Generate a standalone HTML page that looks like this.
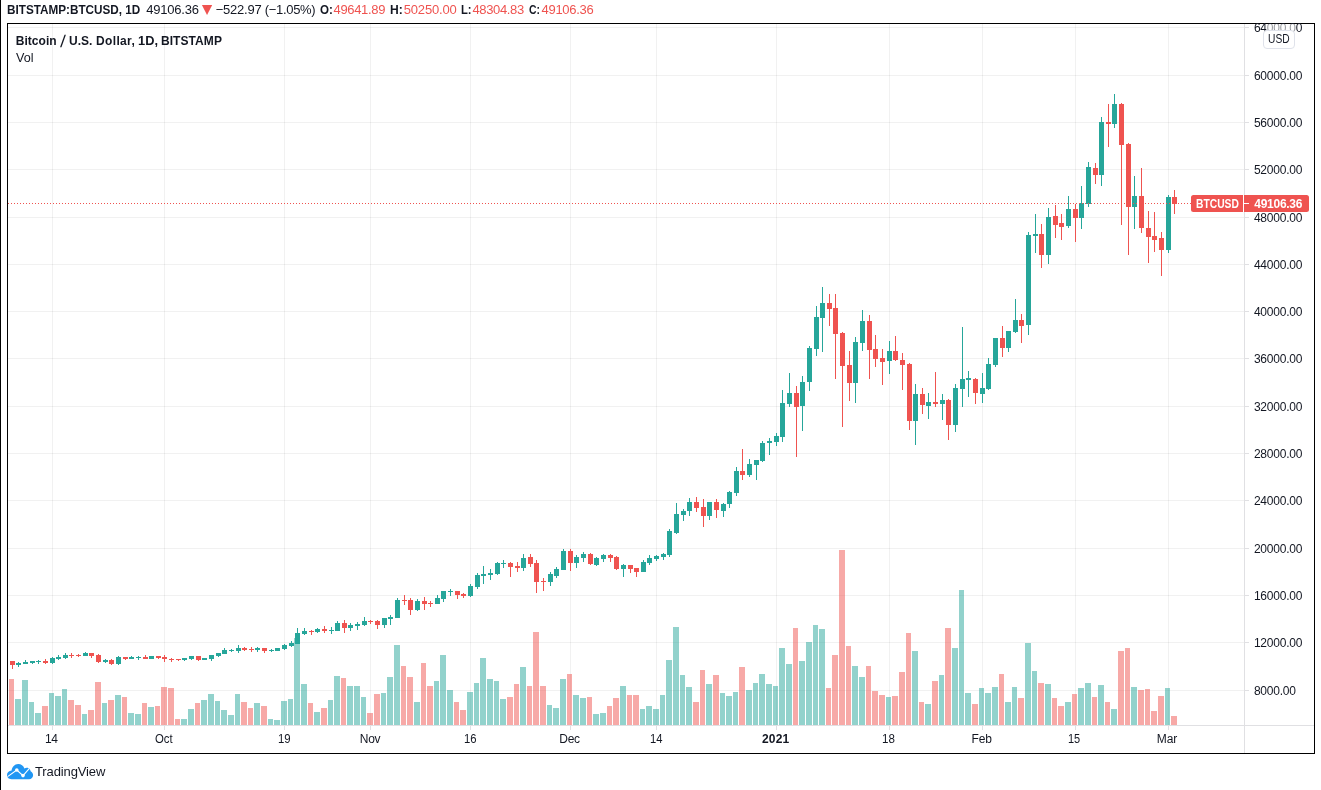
<!DOCTYPE html>
<html lang="en"><head><meta charset="utf-8"><title>BTCUSD chart</title>
<style>
html,body{margin:0;padding:0;background:#fff}
body{width:1321px;height:790px;position:relative;overflow:hidden;font-family:"Liberation Sans",sans-serif;color:#131722}
#c{position:absolute;left:0;top:0;display:block}
.t{position:absolute;transform-origin:0 0;white-space:nowrap;line-height:16px;height:16px;font-size:12px;margin:0;padding:0}
.b{font-weight:700}
.r{color:#ef5350}
.w{color:#fff}
.h{font-size:13px}
</style></head><body>
<svg id="c" width="1321" height="790" viewBox="0 0 1321 790" shape-rendering="crispEdges">
<rect x="0" y="0" width="1" height="790" fill="#000"/>
<g fill="#0c1612" fill-opacity="0.058">
<rect x="8" y="27" width="1236" height="1"/>
<rect x="8" y="75" width="1236" height="1"/>
<rect x="8" y="122" width="1236" height="1"/>
<rect x="8" y="169" width="1236" height="1"/>
<rect x="8" y="217" width="1236" height="1"/>
<rect x="8" y="264" width="1236" height="1"/>
<rect x="8" y="311" width="1236" height="1"/>
<rect x="8" y="358" width="1236" height="1"/>
<rect x="8" y="406" width="1236" height="1"/>
<rect x="8" y="453" width="1236" height="1"/>
<rect x="8" y="500" width="1236" height="1"/>
<rect x="8" y="548" width="1236" height="1"/>
<rect x="8" y="595" width="1236" height="1"/>
<rect x="8" y="642" width="1236" height="1"/>
<rect x="8" y="690" width="1236" height="1"/>
<rect x="52" y="24" width="1" height="701"/>
<rect x="164" y="24" width="1" height="701"/>
<rect x="284" y="24" width="1" height="701"/>
<rect x="370" y="24" width="1" height="701"/>
<rect x="470" y="24" width="1" height="701"/>
<rect x="570" y="24" width="1" height="701"/>
<rect x="656" y="24" width="1" height="701"/>
<rect x="776" y="24" width="1" height="701"/>
<rect x="889" y="24" width="1" height="701"/>
<rect x="982" y="24" width="1" height="701"/>
<rect x="1075" y="24" width="1" height="701"/>
<rect x="1168" y="24" width="1" height="701"/>
</g>
<g fill="#26a69a" fill-opacity="0.5">
<rect x="15" y="699" width="6" height="26"/>
<rect x="22" y="680" width="6" height="45"/>
<rect x="29" y="702" width="5" height="23"/>
<rect x="35" y="713" width="6" height="12"/>
<rect x="49" y="693" width="5" height="32"/>
<rect x="55" y="696" width="6" height="29"/>
<rect x="62" y="689" width="5" height="36"/>
<rect x="82" y="714" width="5" height="11"/>
<rect x="102" y="703" width="5" height="22"/>
<rect x="115" y="695" width="6" height="30"/>
<rect x="128" y="713" width="6" height="12"/>
<rect x="135" y="714" width="6" height="11"/>
<rect x="148" y="707" width="6" height="18"/>
<rect x="181" y="719" width="6" height="6"/>
<rect x="188" y="709" width="6" height="16"/>
<rect x="201" y="700" width="6" height="25"/>
<rect x="208" y="694" width="6" height="31"/>
<rect x="215" y="701" width="5" height="24"/>
<rect x="221" y="710" width="6" height="15"/>
<rect x="228" y="715" width="6" height="10"/>
<rect x="235" y="694" width="5" height="31"/>
<rect x="254" y="703" width="6" height="22"/>
<rect x="268" y="719" width="5" height="6"/>
<rect x="274" y="720" width="6" height="5"/>
<rect x="281" y="701" width="6" height="24"/>
<rect x="288" y="699" width="5" height="26"/>
<rect x="294" y="638" width="6" height="87"/>
<rect x="301" y="684" width="6" height="41"/>
<rect x="314" y="712" width="6" height="13"/>
<rect x="328" y="700" width="5" height="25"/>
<rect x="334" y="676" width="6" height="49"/>
<rect x="347" y="686" width="6" height="39"/>
<rect x="354" y="686" width="6" height="39"/>
<rect x="361" y="697" width="5" height="28"/>
<rect x="381" y="693" width="5" height="32"/>
<rect x="387" y="677" width="6" height="48"/>
<rect x="394" y="645" width="6" height="80"/>
<rect x="414" y="702" width="6" height="23"/>
<rect x="434" y="681" width="5" height="44"/>
<rect x="440" y="655" width="6" height="70"/>
<rect x="447" y="690" width="6" height="35"/>
<rect x="467" y="692" width="6" height="33"/>
<rect x="474" y="683" width="5" height="42"/>
<rect x="480" y="658" width="6" height="67"/>
<rect x="487" y="679" width="6" height="46"/>
<rect x="494" y="681" width="5" height="44"/>
<rect x="500" y="699" width="6" height="26"/>
<rect x="520" y="667" width="6" height="58"/>
<rect x="547" y="705" width="5" height="20"/>
<rect x="553" y="708" width="6" height="17"/>
<rect x="560" y="679" width="6" height="46"/>
<rect x="573" y="695" width="6" height="30"/>
<rect x="580" y="698" width="6" height="27"/>
<rect x="593" y="714" width="6" height="11"/>
<rect x="600" y="713" width="6" height="12"/>
<rect x="620" y="686" width="6" height="39"/>
<rect x="640" y="709" width="5" height="16"/>
<rect x="646" y="706" width="6" height="19"/>
<rect x="653" y="709" width="6" height="16"/>
<rect x="660" y="695" width="5" height="30"/>
<rect x="666" y="660" width="6" height="65"/>
<rect x="673" y="627" width="6" height="98"/>
<rect x="680" y="675" width="5" height="50"/>
<rect x="686" y="687" width="6" height="38"/>
<rect x="706" y="684" width="6" height="41"/>
<rect x="720" y="693" width="5" height="32"/>
<rect x="726" y="696" width="6" height="29"/>
<rect x="733" y="692" width="5" height="33"/>
<rect x="746" y="690" width="6" height="35"/>
<rect x="753" y="683" width="5" height="42"/>
<rect x="759" y="674" width="6" height="51"/>
<rect x="766" y="684" width="6" height="41"/>
<rect x="773" y="686" width="5" height="39"/>
<rect x="779" y="648" width="6" height="77"/>
<rect x="786" y="664" width="6" height="61"/>
<rect x="799" y="661" width="6" height="64"/>
<rect x="806" y="642" width="6" height="83"/>
<rect x="813" y="625" width="5" height="100"/>
<rect x="819" y="629" width="6" height="96"/>
<rect x="852" y="666" width="6" height="59"/>
<rect x="859" y="677" width="6" height="48"/>
<rect x="886" y="697" width="5" height="28"/>
<rect x="912" y="651" width="6" height="74"/>
<rect x="925" y="704" width="6" height="21"/>
<rect x="939" y="675" width="5" height="50"/>
<rect x="952" y="648" width="6" height="77"/>
<rect x="959" y="590" width="5" height="135"/>
<rect x="965" y="693" width="6" height="32"/>
<rect x="979" y="688" width="5" height="37"/>
<rect x="985" y="693" width="6" height="32"/>
<rect x="992" y="687" width="6" height="38"/>
<rect x="1005" y="702" width="6" height="23"/>
<rect x="1012" y="687" width="5" height="38"/>
<rect x="1025" y="643" width="6" height="82"/>
<rect x="1032" y="671" width="5" height="54"/>
<rect x="1045" y="684" width="6" height="41"/>
<rect x="1065" y="702" width="6" height="23"/>
<rect x="1078" y="688" width="6" height="37"/>
<rect x="1085" y="683" width="6" height="42"/>
<rect x="1098" y="685" width="6" height="40"/>
<rect x="1111" y="709" width="6" height="16"/>
<rect x="1131" y="687" width="6" height="38"/>
<rect x="1165" y="688" width="5" height="37"/>
</g>
<g fill="#ef5350" fill-opacity="0.5">
<rect x="9" y="679" width="5" height="46"/>
<rect x="42" y="706" width="6" height="19"/>
<rect x="68" y="700" width="6" height="25"/>
<rect x="75" y="705" width="6" height="20"/>
<rect x="88" y="710" width="6" height="15"/>
<rect x="95" y="682" width="6" height="43"/>
<rect x="108" y="700" width="6" height="25"/>
<rect x="122" y="697" width="5" height="28"/>
<rect x="142" y="703" width="5" height="22"/>
<rect x="155" y="706" width="5" height="19"/>
<rect x="161" y="687" width="6" height="38"/>
<rect x="168" y="688" width="6" height="37"/>
<rect x="175" y="719" width="5" height="6"/>
<rect x="195" y="703" width="5" height="22"/>
<rect x="241" y="702" width="6" height="23"/>
<rect x="248" y="708" width="5" height="17"/>
<rect x="261" y="706" width="6" height="19"/>
<rect x="308" y="703" width="5" height="22"/>
<rect x="321" y="708" width="6" height="17"/>
<rect x="341" y="678" width="5" height="47"/>
<rect x="367" y="713" width="6" height="12"/>
<rect x="374" y="694" width="6" height="31"/>
<rect x="401" y="666" width="5" height="59"/>
<rect x="407" y="677" width="6" height="48"/>
<rect x="421" y="663" width="5" height="62"/>
<rect x="427" y="686" width="6" height="39"/>
<rect x="454" y="702" width="5" height="23"/>
<rect x="460" y="710" width="6" height="15"/>
<rect x="507" y="697" width="6" height="28"/>
<rect x="514" y="684" width="5" height="41"/>
<rect x="527" y="686" width="5" height="39"/>
<rect x="533" y="632" width="6" height="93"/>
<rect x="540" y="686" width="6" height="39"/>
<rect x="567" y="674" width="5" height="51"/>
<rect x="587" y="697" width="5" height="28"/>
<rect x="607" y="706" width="5" height="19"/>
<rect x="613" y="698" width="6" height="27"/>
<rect x="627" y="695" width="5" height="30"/>
<rect x="633" y="695" width="6" height="30"/>
<rect x="693" y="702" width="6" height="23"/>
<rect x="700" y="670" width="5" height="55"/>
<rect x="713" y="675" width="6" height="50"/>
<rect x="739" y="667" width="6" height="58"/>
<rect x="793" y="628" width="5" height="97"/>
<rect x="826" y="688" width="5" height="37"/>
<rect x="832" y="655" width="6" height="70"/>
<rect x="839" y="550" width="6" height="175"/>
<rect x="846" y="646" width="5" height="79"/>
<rect x="866" y="666" width="5" height="59"/>
<rect x="872" y="691" width="6" height="34"/>
<rect x="879" y="695" width="6" height="30"/>
<rect x="892" y="696" width="6" height="29"/>
<rect x="899" y="672" width="6" height="53"/>
<rect x="906" y="633" width="5" height="92"/>
<rect x="919" y="702" width="5" height="23"/>
<rect x="932" y="681" width="6" height="44"/>
<rect x="945" y="628" width="6" height="97"/>
<rect x="972" y="704" width="6" height="21"/>
<rect x="999" y="674" width="5" height="51"/>
<rect x="1018" y="698" width="6" height="27"/>
<rect x="1038" y="683" width="6" height="42"/>
<rect x="1052" y="698" width="5" height="27"/>
<rect x="1058" y="706" width="6" height="19"/>
<rect x="1072" y="694" width="5" height="31"/>
<rect x="1092" y="697" width="5" height="28"/>
<rect x="1105" y="702" width="5" height="23"/>
<rect x="1118" y="651" width="6" height="74"/>
<rect x="1125" y="648" width="5" height="77"/>
<rect x="1138" y="690" width="6" height="35"/>
<rect x="1145" y="689" width="5" height="36"/>
<rect x="1151" y="711" width="6" height="14"/>
<rect x="1158" y="696" width="6" height="29"/>
<rect x="1171" y="716" width="6" height="9"/>
</g>
<g fill="#26a69a">
<rect x="18" y="662" width="1" height="5"/>
<rect x="16" y="663" width="5" height="2"/>
<rect x="25" y="660" width="1" height="4"/>
<rect x="23" y="662" width="5" height="2"/>
<rect x="32" y="661" width="1" height="3"/>
<rect x="30" y="661" width="5" height="2"/>
<rect x="38" y="660" width="1" height="4"/>
<rect x="36" y="661" width="5" height="1"/>
<rect x="52" y="657" width="1" height="7"/>
<rect x="50" y="658" width="5" height="5"/>
<rect x="58" y="655" width="1" height="5"/>
<rect x="56" y="657" width="5" height="2"/>
<rect x="65" y="653" width="1" height="6"/>
<rect x="63" y="655" width="5" height="3"/>
<rect x="85" y="652" width="1" height="4"/>
<rect x="83" y="653" width="5" height="3"/>
<rect x="105" y="659" width="1" height="4"/>
<rect x="103" y="660" width="5" height="2"/>
<rect x="118" y="656" width="1" height="9"/>
<rect x="116" y="657" width="5" height="7"/>
<rect x="131" y="656" width="1" height="3"/>
<rect x="129" y="657" width="5" height="2"/>
<rect x="138" y="656" width="1" height="4"/>
<rect x="136" y="657" width="5" height="1"/>
<rect x="151" y="656" width="1" height="3"/>
<rect x="149" y="656" width="5" height="3"/>
<rect x="184" y="658" width="1" height="3"/>
<rect x="182" y="658" width="5" height="2"/>
<rect x="191" y="656" width="1" height="4"/>
<rect x="189" y="656" width="5" height="3"/>
<rect x="204" y="658" width="1" height="2"/>
<rect x="202" y="658" width="5" height="2"/>
<rect x="211" y="655" width="1" height="6"/>
<rect x="209" y="655" width="5" height="4"/>
<rect x="218" y="653" width="1" height="4"/>
<rect x="216" y="653" width="5" height="3"/>
<rect x="224" y="648" width="1" height="6"/>
<rect x="222" y="650" width="5" height="4"/>
<rect x="231" y="649" width="1" height="3"/>
<rect x="229" y="650" width="5" height="1"/>
<rect x="238" y="645" width="1" height="8"/>
<rect x="236" y="648" width="5" height="3"/>
<rect x="257" y="647" width="1" height="5"/>
<rect x="255" y="648" width="5" height="2"/>
<rect x="271" y="649" width="1" height="3"/>
<rect x="269" y="650" width="5" height="1"/>
<rect x="277" y="648" width="1" height="3"/>
<rect x="275" y="648" width="5" height="3"/>
<rect x="284" y="644" width="1" height="6"/>
<rect x="282" y="645" width="5" height="4"/>
<rect x="291" y="641" width="1" height="6"/>
<rect x="289" y="643" width="5" height="3"/>
<rect x="297" y="628" width="1" height="16"/>
<rect x="295" y="633" width="5" height="11"/>
<rect x="304" y="628" width="1" height="7"/>
<rect x="302" y="631" width="5" height="3"/>
<rect x="317" y="628" width="1" height="5"/>
<rect x="315" y="629" width="5" height="3"/>
<rect x="331" y="627" width="1" height="7"/>
<rect x="329" y="630" width="5" height="1"/>
<rect x="337" y="621" width="1" height="10"/>
<rect x="335" y="623" width="5" height="8"/>
<rect x="350" y="623" width="1" height="8"/>
<rect x="348" y="625" width="5" height="3"/>
<rect x="357" y="622" width="1" height="8"/>
<rect x="355" y="624" width="5" height="2"/>
<rect x="364" y="617" width="1" height="9"/>
<rect x="362" y="621" width="5" height="4"/>
<rect x="384" y="618" width="1" height="10"/>
<rect x="382" y="618" width="5" height="7"/>
<rect x="390" y="615" width="1" height="10"/>
<rect x="388" y="617" width="5" height="2"/>
<rect x="397" y="598" width="1" height="20"/>
<rect x="395" y="600" width="5" height="18"/>
<rect x="417" y="599" width="1" height="12"/>
<rect x="415" y="601" width="5" height="9"/>
<rect x="437" y="595" width="1" height="9"/>
<rect x="435" y="598" width="5" height="6"/>
<rect x="443" y="591" width="1" height="11"/>
<rect x="441" y="591" width="5" height="8"/>
<rect x="450" y="589" width="1" height="7"/>
<rect x="448" y="591" width="5" height="1"/>
<rect x="470" y="584" width="1" height="13"/>
<rect x="468" y="586" width="5" height="10"/>
<rect x="477" y="573" width="1" height="16"/>
<rect x="475" y="575" width="5" height="12"/>
<rect x="483" y="566" width="1" height="18"/>
<rect x="481" y="574" width="5" height="2"/>
<rect x="490" y="569" width="1" height="11"/>
<rect x="488" y="573" width="5" height="2"/>
<rect x="497" y="562" width="1" height="13"/>
<rect x="495" y="563" width="5" height="11"/>
<rect x="503" y="560" width="1" height="8"/>
<rect x="501" y="563" width="5" height="1"/>
<rect x="523" y="554" width="1" height="17"/>
<rect x="521" y="558" width="5" height="10"/>
<rect x="550" y="572" width="1" height="14"/>
<rect x="548" y="574" width="5" height="8"/>
<rect x="556" y="567" width="1" height="11"/>
<rect x="554" y="569" width="5" height="7"/>
<rect x="563" y="549" width="1" height="21"/>
<rect x="561" y="551" width="5" height="19"/>
<rect x="576" y="555" width="1" height="13"/>
<rect x="574" y="557" width="5" height="6"/>
<rect x="583" y="552" width="1" height="10"/>
<rect x="581" y="554" width="5" height="4"/>
<rect x="596" y="557" width="1" height="9"/>
<rect x="594" y="558" width="5" height="7"/>
<rect x="603" y="554" width="1" height="8"/>
<rect x="601" y="555" width="5" height="4"/>
<rect x="623" y="564" width="1" height="13"/>
<rect x="621" y="565" width="5" height="4"/>
<rect x="643" y="560" width="1" height="12"/>
<rect x="641" y="562" width="5" height="10"/>
<rect x="649" y="555" width="1" height="10"/>
<rect x="647" y="558" width="5" height="5"/>
<rect x="656" y="555" width="1" height="6"/>
<rect x="654" y="556" width="5" height="3"/>
<rect x="663" y="553" width="1" height="7"/>
<rect x="661" y="554" width="5" height="3"/>
<rect x="669" y="529" width="1" height="28"/>
<rect x="667" y="531" width="5" height="24"/>
<rect x="676" y="503" width="1" height="31"/>
<rect x="674" y="514" width="5" height="19"/>
<rect x="683" y="509" width="1" height="12"/>
<rect x="681" y="511" width="5" height="4"/>
<rect x="689" y="498" width="1" height="18"/>
<rect x="687" y="502" width="5" height="9"/>
<rect x="709" y="502" width="1" height="18"/>
<rect x="707" y="502" width="5" height="14"/>
<rect x="723" y="503" width="1" height="14"/>
<rect x="721" y="504" width="5" height="7"/>
<rect x="729" y="491" width="1" height="17"/>
<rect x="727" y="492" width="5" height="12"/>
<rect x="736" y="467" width="1" height="29"/>
<rect x="734" y="471" width="5" height="22"/>
<rect x="749" y="459" width="1" height="18"/>
<rect x="747" y="464" width="5" height="11"/>
<rect x="756" y="460" width="1" height="20"/>
<rect x="754" y="460" width="5" height="5"/>
<rect x="762" y="441" width="1" height="21"/>
<rect x="760" y="443" width="5" height="18"/>
<rect x="769" y="438" width="1" height="17"/>
<rect x="767" y="441" width="5" height="2"/>
<rect x="776" y="433" width="1" height="13"/>
<rect x="774" y="436" width="5" height="6"/>
<rect x="782" y="390" width="1" height="52"/>
<rect x="780" y="403" width="5" height="34"/>
<rect x="789" y="373" width="1" height="34"/>
<rect x="787" y="393" width="5" height="11"/>
<rect x="802" y="376" width="1" height="55"/>
<rect x="800" y="382" width="5" height="24"/>
<rect x="809" y="346" width="1" height="45"/>
<rect x="807" y="348" width="5" height="34"/>
<rect x="816" y="306" width="1" height="50"/>
<rect x="814" y="317" width="5" height="32"/>
<rect x="822" y="287" width="1" height="65"/>
<rect x="820" y="303" width="5" height="15"/>
<rect x="855" y="337" width="1" height="66"/>
<rect x="853" y="342" width="5" height="41"/>
<rect x="862" y="310" width="1" height="41"/>
<rect x="860" y="321" width="5" height="22"/>
<rect x="889" y="341" width="1" height="33"/>
<rect x="887" y="351" width="5" height="10"/>
<rect x="915" y="384" width="1" height="61"/>
<rect x="913" y="394" width="5" height="27"/>
<rect x="928" y="393" width="1" height="26"/>
<rect x="926" y="402" width="5" height="4"/>
<rect x="942" y="394" width="1" height="26"/>
<rect x="940" y="400" width="5" height="4"/>
<rect x="955" y="384" width="1" height="48"/>
<rect x="953" y="388" width="5" height="37"/>
<rect x="962" y="327" width="1" height="80"/>
<rect x="960" y="379" width="5" height="10"/>
<rect x="968" y="371" width="1" height="26"/>
<rect x="966" y="378" width="5" height="2"/>
<rect x="982" y="373" width="1" height="30"/>
<rect x="980" y="388" width="5" height="6"/>
<rect x="988" y="358" width="1" height="32"/>
<rect x="986" y="364" width="5" height="25"/>
<rect x="995" y="338" width="1" height="29"/>
<rect x="993" y="338" width="5" height="27"/>
<rect x="1008" y="331" width="1" height="21"/>
<rect x="1006" y="331" width="5" height="17"/>
<rect x="1015" y="299" width="1" height="34"/>
<rect x="1013" y="320" width="5" height="12"/>
<rect x="1028" y="232" width="1" height="103"/>
<rect x="1026" y="235" width="5" height="90"/>
<rect x="1035" y="214" width="1" height="39"/>
<rect x="1033" y="234" width="5" height="2"/>
<rect x="1048" y="208" width="1" height="56"/>
<rect x="1046" y="217" width="5" height="38"/>
<rect x="1068" y="196" width="1" height="32"/>
<rect x="1066" y="209" width="5" height="17"/>
<rect x="1081" y="186" width="1" height="43"/>
<rect x="1079" y="203" width="5" height="15"/>
<rect x="1088" y="162" width="1" height="45"/>
<rect x="1086" y="167" width="5" height="37"/>
<rect x="1101" y="117" width="1" height="69"/>
<rect x="1099" y="122" width="5" height="53"/>
<rect x="1114" y="94" width="1" height="34"/>
<rect x="1112" y="104" width="5" height="20"/>
<rect x="1134" y="176" width="1" height="53"/>
<rect x="1132" y="196" width="5" height="11"/>
<rect x="1168" y="195" width="1" height="58"/>
<rect x="1166" y="197" width="5" height="53"/>
</g>
<g fill="#ef5350">
<rect x="12" y="661" width="1" height="8"/>
<rect x="10" y="661" width="5" height="4"/>
<rect x="45" y="659" width="1" height="5"/>
<rect x="43" y="661" width="5" height="2"/>
<rect x="71" y="653" width="1" height="5"/>
<rect x="69" y="655" width="5" height="1"/>
<rect x="78" y="654" width="1" height="3"/>
<rect x="76" y="655" width="5" height="1"/>
<rect x="91" y="653" width="1" height="5"/>
<rect x="89" y="653" width="5" height="3"/>
<rect x="98" y="654" width="1" height="9"/>
<rect x="96" y="655" width="5" height="7"/>
<rect x="111" y="659" width="1" height="6"/>
<rect x="109" y="660" width="5" height="4"/>
<rect x="125" y="657" width="1" height="3"/>
<rect x="123" y="657" width="5" height="2"/>
<rect x="145" y="655" width="1" height="4"/>
<rect x="143" y="657" width="5" height="2"/>
<rect x="158" y="656" width="1" height="3"/>
<rect x="156" y="656" width="5" height="2"/>
<rect x="164" y="655" width="1" height="7"/>
<rect x="162" y="657" width="5" height="2"/>
<rect x="171" y="658" width="1" height="4"/>
<rect x="169" y="659" width="5" height="1"/>
<rect x="178" y="659" width="1" height="2"/>
<rect x="176" y="659" width="5" height="1"/>
<rect x="198" y="656" width="1" height="5"/>
<rect x="196" y="656" width="5" height="4"/>
<rect x="244" y="647" width="1" height="4"/>
<rect x="242" y="648" width="5" height="2"/>
<rect x="251" y="647" width="1" height="5"/>
<rect x="249" y="649" width="5" height="1"/>
<rect x="264" y="648" width="1" height="5"/>
<rect x="262" y="648" width="5" height="3"/>
<rect x="311" y="630" width="1" height="5"/>
<rect x="309" y="631" width="5" height="1"/>
<rect x="324" y="626" width="1" height="7"/>
<rect x="322" y="629" width="5" height="2"/>
<rect x="344" y="620" width="1" height="13"/>
<rect x="342" y="623" width="5" height="5"/>
<rect x="370" y="620" width="1" height="4"/>
<rect x="368" y="621" width="5" height="1"/>
<rect x="377" y="620" width="1" height="9"/>
<rect x="375" y="621" width="5" height="4"/>
<rect x="404" y="595" width="1" height="10"/>
<rect x="402" y="600" width="5" height="1"/>
<rect x="410" y="598" width="1" height="17"/>
<rect x="408" y="600" width="5" height="10"/>
<rect x="424" y="597" width="1" height="13"/>
<rect x="422" y="601" width="5" height="3"/>
<rect x="430" y="601" width="1" height="6"/>
<rect x="428" y="603" width="5" height="1"/>
<rect x="457" y="591" width="1" height="8"/>
<rect x="455" y="591" width="5" height="4"/>
<rect x="463" y="593" width="1" height="5"/>
<rect x="461" y="594" width="5" height="2"/>
<rect x="510" y="562" width="1" height="15"/>
<rect x="508" y="563" width="5" height="4"/>
<rect x="517" y="562" width="1" height="10"/>
<rect x="515" y="566" width="5" height="2"/>
<rect x="530" y="554" width="1" height="13"/>
<rect x="528" y="557" width="5" height="7"/>
<rect x="536" y="560" width="1" height="33"/>
<rect x="534" y="563" width="5" height="19"/>
<rect x="543" y="578" width="1" height="13"/>
<rect x="541" y="581" width="5" height="1"/>
<rect x="570" y="549" width="1" height="22"/>
<rect x="568" y="551" width="5" height="12"/>
<rect x="590" y="553" width="1" height="12"/>
<rect x="588" y="554" width="5" height="10"/>
<rect x="610" y="554" width="1" height="8"/>
<rect x="608" y="555" width="5" height="3"/>
<rect x="616" y="556" width="1" height="14"/>
<rect x="614" y="557" width="5" height="12"/>
<rect x="630" y="565" width="1" height="8"/>
<rect x="628" y="565" width="5" height="4"/>
<rect x="636" y="568" width="1" height="9"/>
<rect x="634" y="568" width="5" height="4"/>
<rect x="696" y="497" width="1" height="15"/>
<rect x="694" y="502" width="5" height="6"/>
<rect x="703" y="499" width="1" height="28"/>
<rect x="701" y="507" width="5" height="9"/>
<rect x="716" y="499" width="1" height="19"/>
<rect x="714" y="502" width="5" height="8"/>
<rect x="742" y="449" width="1" height="31"/>
<rect x="740" y="471" width="5" height="4"/>
<rect x="796" y="386" width="1" height="71"/>
<rect x="794" y="393" width="5" height="14"/>
<rect x="829" y="294" width="1" height="32"/>
<rect x="827" y="303" width="5" height="6"/>
<rect x="835" y="294" width="1" height="85"/>
<rect x="833" y="308" width="5" height="26"/>
<rect x="842" y="332" width="1" height="95"/>
<rect x="840" y="333" width="5" height="33"/>
<rect x="849" y="351" width="1" height="50"/>
<rect x="847" y="365" width="5" height="18"/>
<rect x="869" y="315" width="1" height="64"/>
<rect x="867" y="321" width="5" height="29"/>
<rect x="875" y="335" width="1" height="32"/>
<rect x="873" y="349" width="5" height="10"/>
<rect x="882" y="349" width="1" height="36"/>
<rect x="880" y="358" width="5" height="4"/>
<rect x="895" y="336" width="1" height="25"/>
<rect x="893" y="351" width="5" height="9"/>
<rect x="902" y="353" width="1" height="37"/>
<rect x="900" y="360" width="5" height="5"/>
<rect x="909" y="363" width="1" height="67"/>
<rect x="907" y="364" width="5" height="57"/>
<rect x="922" y="388" width="1" height="26"/>
<rect x="920" y="394" width="5" height="11"/>
<rect x="935" y="372" width="1" height="35"/>
<rect x="933" y="402" width="5" height="2"/>
<rect x="948" y="399" width="1" height="41"/>
<rect x="946" y="400" width="5" height="25"/>
<rect x="975" y="378" width="1" height="26"/>
<rect x="973" y="379" width="5" height="14"/>
<rect x="1002" y="326" width="1" height="31"/>
<rect x="1000" y="338" width="5" height="10"/>
<rect x="1021" y="314" width="1" height="29"/>
<rect x="1019" y="320" width="5" height="6"/>
<rect x="1041" y="224" width="1" height="44"/>
<rect x="1039" y="234" width="5" height="21"/>
<rect x="1055" y="205" width="1" height="33"/>
<rect x="1053" y="216" width="5" height="9"/>
<rect x="1061" y="214" width="1" height="26"/>
<rect x="1059" y="223" width="5" height="4"/>
<rect x="1075" y="204" width="1" height="38"/>
<rect x="1073" y="209" width="5" height="9"/>
<rect x="1095" y="163" width="1" height="21"/>
<rect x="1093" y="168" width="5" height="7"/>
<rect x="1108" y="104" width="1" height="43"/>
<rect x="1106" y="122" width="5" height="2"/>
<rect x="1121" y="103" width="1" height="122"/>
<rect x="1119" y="104" width="5" height="41"/>
<rect x="1128" y="143" width="1" height="112"/>
<rect x="1126" y="144" width="5" height="63"/>
<rect x="1141" y="168" width="1" height="65"/>
<rect x="1139" y="196" width="5" height="32"/>
<rect x="1148" y="211" width="1" height="52"/>
<rect x="1146" y="228" width="5" height="9"/>
<rect x="1154" y="212" width="1" height="40"/>
<rect x="1152" y="236" width="5" height="4"/>
<rect x="1161" y="232" width="1" height="44"/>
<rect x="1159" y="238" width="5" height="12"/>
<rect x="1174" y="190" width="1" height="24"/>
<rect x="1172" y="197" width="5" height="7"/>
</g>
<g fill="#ef5350">
<rect x="8" y="203" width="1" height="1"/>
<rect x="11" y="203" width="1" height="1"/>
<rect x="14" y="203" width="1" height="1"/>
<rect x="17" y="203" width="1" height="1"/>
<rect x="20" y="203" width="1" height="1"/>
<rect x="23" y="203" width="1" height="1"/>
<rect x="26" y="203" width="1" height="1"/>
<rect x="29" y="203" width="1" height="1"/>
<rect x="32" y="203" width="1" height="1"/>
<rect x="35" y="203" width="1" height="1"/>
<rect x="38" y="203" width="1" height="1"/>
<rect x="41" y="203" width="1" height="1"/>
<rect x="44" y="203" width="1" height="1"/>
<rect x="47" y="203" width="1" height="1"/>
<rect x="50" y="203" width="1" height="1"/>
<rect x="53" y="203" width="1" height="1"/>
<rect x="56" y="203" width="1" height="1"/>
<rect x="59" y="203" width="1" height="1"/>
<rect x="62" y="203" width="1" height="1"/>
<rect x="65" y="203" width="1" height="1"/>
<rect x="68" y="203" width="1" height="1"/>
<rect x="71" y="203" width="1" height="1"/>
<rect x="74" y="203" width="1" height="1"/>
<rect x="77" y="203" width="1" height="1"/>
<rect x="80" y="203" width="1" height="1"/>
<rect x="83" y="203" width="1" height="1"/>
<rect x="86" y="203" width="1" height="1"/>
<rect x="89" y="203" width="1" height="1"/>
<rect x="92" y="203" width="1" height="1"/>
<rect x="95" y="203" width="1" height="1"/>
<rect x="98" y="203" width="1" height="1"/>
<rect x="101" y="203" width="1" height="1"/>
<rect x="104" y="203" width="1" height="1"/>
<rect x="107" y="203" width="1" height="1"/>
<rect x="110" y="203" width="1" height="1"/>
<rect x="113" y="203" width="1" height="1"/>
<rect x="116" y="203" width="1" height="1"/>
<rect x="119" y="203" width="1" height="1"/>
<rect x="122" y="203" width="1" height="1"/>
<rect x="125" y="203" width="1" height="1"/>
<rect x="128" y="203" width="1" height="1"/>
<rect x="131" y="203" width="1" height="1"/>
<rect x="134" y="203" width="1" height="1"/>
<rect x="137" y="203" width="1" height="1"/>
<rect x="140" y="203" width="1" height="1"/>
<rect x="143" y="203" width="1" height="1"/>
<rect x="146" y="203" width="1" height="1"/>
<rect x="149" y="203" width="1" height="1"/>
<rect x="152" y="203" width="1" height="1"/>
<rect x="155" y="203" width="1" height="1"/>
<rect x="158" y="203" width="1" height="1"/>
<rect x="161" y="203" width="1" height="1"/>
<rect x="164" y="203" width="1" height="1"/>
<rect x="167" y="203" width="1" height="1"/>
<rect x="170" y="203" width="1" height="1"/>
<rect x="173" y="203" width="1" height="1"/>
<rect x="176" y="203" width="1" height="1"/>
<rect x="179" y="203" width="1" height="1"/>
<rect x="182" y="203" width="1" height="1"/>
<rect x="185" y="203" width="1" height="1"/>
<rect x="188" y="203" width="1" height="1"/>
<rect x="191" y="203" width="1" height="1"/>
<rect x="194" y="203" width="1" height="1"/>
<rect x="197" y="203" width="1" height="1"/>
<rect x="200" y="203" width="1" height="1"/>
<rect x="203" y="203" width="1" height="1"/>
<rect x="206" y="203" width="1" height="1"/>
<rect x="209" y="203" width="1" height="1"/>
<rect x="212" y="203" width="1" height="1"/>
<rect x="215" y="203" width="1" height="1"/>
<rect x="218" y="203" width="1" height="1"/>
<rect x="221" y="203" width="1" height="1"/>
<rect x="224" y="203" width="1" height="1"/>
<rect x="227" y="203" width="1" height="1"/>
<rect x="230" y="203" width="1" height="1"/>
<rect x="233" y="203" width="1" height="1"/>
<rect x="236" y="203" width="1" height="1"/>
<rect x="239" y="203" width="1" height="1"/>
<rect x="242" y="203" width="1" height="1"/>
<rect x="245" y="203" width="1" height="1"/>
<rect x="248" y="203" width="1" height="1"/>
<rect x="251" y="203" width="1" height="1"/>
<rect x="254" y="203" width="1" height="1"/>
<rect x="257" y="203" width="1" height="1"/>
<rect x="260" y="203" width="1" height="1"/>
<rect x="263" y="203" width="1" height="1"/>
<rect x="266" y="203" width="1" height="1"/>
<rect x="269" y="203" width="1" height="1"/>
<rect x="272" y="203" width="1" height="1"/>
<rect x="275" y="203" width="1" height="1"/>
<rect x="278" y="203" width="1" height="1"/>
<rect x="281" y="203" width="1" height="1"/>
<rect x="284" y="203" width="1" height="1"/>
<rect x="287" y="203" width="1" height="1"/>
<rect x="290" y="203" width="1" height="1"/>
<rect x="293" y="203" width="1" height="1"/>
<rect x="296" y="203" width="1" height="1"/>
<rect x="299" y="203" width="1" height="1"/>
<rect x="302" y="203" width="1" height="1"/>
<rect x="305" y="203" width="1" height="1"/>
<rect x="308" y="203" width="1" height="1"/>
<rect x="311" y="203" width="1" height="1"/>
<rect x="314" y="203" width="1" height="1"/>
<rect x="317" y="203" width="1" height="1"/>
<rect x="320" y="203" width="1" height="1"/>
<rect x="323" y="203" width="1" height="1"/>
<rect x="326" y="203" width="1" height="1"/>
<rect x="329" y="203" width="1" height="1"/>
<rect x="332" y="203" width="1" height="1"/>
<rect x="335" y="203" width="1" height="1"/>
<rect x="338" y="203" width="1" height="1"/>
<rect x="341" y="203" width="1" height="1"/>
<rect x="344" y="203" width="1" height="1"/>
<rect x="347" y="203" width="1" height="1"/>
<rect x="350" y="203" width="1" height="1"/>
<rect x="353" y="203" width="1" height="1"/>
<rect x="356" y="203" width="1" height="1"/>
<rect x="359" y="203" width="1" height="1"/>
<rect x="362" y="203" width="1" height="1"/>
<rect x="365" y="203" width="1" height="1"/>
<rect x="368" y="203" width="1" height="1"/>
<rect x="371" y="203" width="1" height="1"/>
<rect x="374" y="203" width="1" height="1"/>
<rect x="377" y="203" width="1" height="1"/>
<rect x="380" y="203" width="1" height="1"/>
<rect x="383" y="203" width="1" height="1"/>
<rect x="386" y="203" width="1" height="1"/>
<rect x="389" y="203" width="1" height="1"/>
<rect x="392" y="203" width="1" height="1"/>
<rect x="395" y="203" width="1" height="1"/>
<rect x="398" y="203" width="1" height="1"/>
<rect x="401" y="203" width="1" height="1"/>
<rect x="404" y="203" width="1" height="1"/>
<rect x="407" y="203" width="1" height="1"/>
<rect x="410" y="203" width="1" height="1"/>
<rect x="413" y="203" width="1" height="1"/>
<rect x="416" y="203" width="1" height="1"/>
<rect x="419" y="203" width="1" height="1"/>
<rect x="422" y="203" width="1" height="1"/>
<rect x="425" y="203" width="1" height="1"/>
<rect x="428" y="203" width="1" height="1"/>
<rect x="431" y="203" width="1" height="1"/>
<rect x="434" y="203" width="1" height="1"/>
<rect x="437" y="203" width="1" height="1"/>
<rect x="440" y="203" width="1" height="1"/>
<rect x="443" y="203" width="1" height="1"/>
<rect x="446" y="203" width="1" height="1"/>
<rect x="449" y="203" width="1" height="1"/>
<rect x="452" y="203" width="1" height="1"/>
<rect x="455" y="203" width="1" height="1"/>
<rect x="458" y="203" width="1" height="1"/>
<rect x="461" y="203" width="1" height="1"/>
<rect x="464" y="203" width="1" height="1"/>
<rect x="467" y="203" width="1" height="1"/>
<rect x="470" y="203" width="1" height="1"/>
<rect x="473" y="203" width="1" height="1"/>
<rect x="476" y="203" width="1" height="1"/>
<rect x="479" y="203" width="1" height="1"/>
<rect x="482" y="203" width="1" height="1"/>
<rect x="485" y="203" width="1" height="1"/>
<rect x="488" y="203" width="1" height="1"/>
<rect x="491" y="203" width="1" height="1"/>
<rect x="494" y="203" width="1" height="1"/>
<rect x="497" y="203" width="1" height="1"/>
<rect x="500" y="203" width="1" height="1"/>
<rect x="503" y="203" width="1" height="1"/>
<rect x="506" y="203" width="1" height="1"/>
<rect x="509" y="203" width="1" height="1"/>
<rect x="512" y="203" width="1" height="1"/>
<rect x="515" y="203" width="1" height="1"/>
<rect x="518" y="203" width="1" height="1"/>
<rect x="521" y="203" width="1" height="1"/>
<rect x="524" y="203" width="1" height="1"/>
<rect x="527" y="203" width="1" height="1"/>
<rect x="530" y="203" width="1" height="1"/>
<rect x="533" y="203" width="1" height="1"/>
<rect x="536" y="203" width="1" height="1"/>
<rect x="539" y="203" width="1" height="1"/>
<rect x="542" y="203" width="1" height="1"/>
<rect x="545" y="203" width="1" height="1"/>
<rect x="548" y="203" width="1" height="1"/>
<rect x="551" y="203" width="1" height="1"/>
<rect x="554" y="203" width="1" height="1"/>
<rect x="557" y="203" width="1" height="1"/>
<rect x="560" y="203" width="1" height="1"/>
<rect x="563" y="203" width="1" height="1"/>
<rect x="566" y="203" width="1" height="1"/>
<rect x="569" y="203" width="1" height="1"/>
<rect x="572" y="203" width="1" height="1"/>
<rect x="575" y="203" width="1" height="1"/>
<rect x="578" y="203" width="1" height="1"/>
<rect x="581" y="203" width="1" height="1"/>
<rect x="584" y="203" width="1" height="1"/>
<rect x="587" y="203" width="1" height="1"/>
<rect x="590" y="203" width="1" height="1"/>
<rect x="593" y="203" width="1" height="1"/>
<rect x="596" y="203" width="1" height="1"/>
<rect x="599" y="203" width="1" height="1"/>
<rect x="602" y="203" width="1" height="1"/>
<rect x="605" y="203" width="1" height="1"/>
<rect x="608" y="203" width="1" height="1"/>
<rect x="611" y="203" width="1" height="1"/>
<rect x="614" y="203" width="1" height="1"/>
<rect x="617" y="203" width="1" height="1"/>
<rect x="620" y="203" width="1" height="1"/>
<rect x="623" y="203" width="1" height="1"/>
<rect x="626" y="203" width="1" height="1"/>
<rect x="629" y="203" width="1" height="1"/>
<rect x="632" y="203" width="1" height="1"/>
<rect x="635" y="203" width="1" height="1"/>
<rect x="638" y="203" width="1" height="1"/>
<rect x="641" y="203" width="1" height="1"/>
<rect x="644" y="203" width="1" height="1"/>
<rect x="647" y="203" width="1" height="1"/>
<rect x="650" y="203" width="1" height="1"/>
<rect x="653" y="203" width="1" height="1"/>
<rect x="656" y="203" width="1" height="1"/>
<rect x="659" y="203" width="1" height="1"/>
<rect x="662" y="203" width="1" height="1"/>
<rect x="665" y="203" width="1" height="1"/>
<rect x="668" y="203" width="1" height="1"/>
<rect x="671" y="203" width="1" height="1"/>
<rect x="674" y="203" width="1" height="1"/>
<rect x="677" y="203" width="1" height="1"/>
<rect x="680" y="203" width="1" height="1"/>
<rect x="683" y="203" width="1" height="1"/>
<rect x="686" y="203" width="1" height="1"/>
<rect x="689" y="203" width="1" height="1"/>
<rect x="692" y="203" width="1" height="1"/>
<rect x="695" y="203" width="1" height="1"/>
<rect x="698" y="203" width="1" height="1"/>
<rect x="701" y="203" width="1" height="1"/>
<rect x="704" y="203" width="1" height="1"/>
<rect x="707" y="203" width="1" height="1"/>
<rect x="710" y="203" width="1" height="1"/>
<rect x="713" y="203" width="1" height="1"/>
<rect x="716" y="203" width="1" height="1"/>
<rect x="719" y="203" width="1" height="1"/>
<rect x="722" y="203" width="1" height="1"/>
<rect x="725" y="203" width="1" height="1"/>
<rect x="728" y="203" width="1" height="1"/>
<rect x="731" y="203" width="1" height="1"/>
<rect x="734" y="203" width="1" height="1"/>
<rect x="737" y="203" width="1" height="1"/>
<rect x="740" y="203" width="1" height="1"/>
<rect x="743" y="203" width="1" height="1"/>
<rect x="746" y="203" width="1" height="1"/>
<rect x="749" y="203" width="1" height="1"/>
<rect x="752" y="203" width="1" height="1"/>
<rect x="755" y="203" width="1" height="1"/>
<rect x="758" y="203" width="1" height="1"/>
<rect x="761" y="203" width="1" height="1"/>
<rect x="764" y="203" width="1" height="1"/>
<rect x="767" y="203" width="1" height="1"/>
<rect x="770" y="203" width="1" height="1"/>
<rect x="773" y="203" width="1" height="1"/>
<rect x="776" y="203" width="1" height="1"/>
<rect x="779" y="203" width="1" height="1"/>
<rect x="782" y="203" width="1" height="1"/>
<rect x="785" y="203" width="1" height="1"/>
<rect x="788" y="203" width="1" height="1"/>
<rect x="791" y="203" width="1" height="1"/>
<rect x="794" y="203" width="1" height="1"/>
<rect x="797" y="203" width="1" height="1"/>
<rect x="800" y="203" width="1" height="1"/>
<rect x="803" y="203" width="1" height="1"/>
<rect x="806" y="203" width="1" height="1"/>
<rect x="809" y="203" width="1" height="1"/>
<rect x="812" y="203" width="1" height="1"/>
<rect x="815" y="203" width="1" height="1"/>
<rect x="818" y="203" width="1" height="1"/>
<rect x="821" y="203" width="1" height="1"/>
<rect x="824" y="203" width="1" height="1"/>
<rect x="827" y="203" width="1" height="1"/>
<rect x="830" y="203" width="1" height="1"/>
<rect x="833" y="203" width="1" height="1"/>
<rect x="836" y="203" width="1" height="1"/>
<rect x="839" y="203" width="1" height="1"/>
<rect x="842" y="203" width="1" height="1"/>
<rect x="845" y="203" width="1" height="1"/>
<rect x="848" y="203" width="1" height="1"/>
<rect x="851" y="203" width="1" height="1"/>
<rect x="854" y="203" width="1" height="1"/>
<rect x="857" y="203" width="1" height="1"/>
<rect x="860" y="203" width="1" height="1"/>
<rect x="863" y="203" width="1" height="1"/>
<rect x="866" y="203" width="1" height="1"/>
<rect x="869" y="203" width="1" height="1"/>
<rect x="872" y="203" width="1" height="1"/>
<rect x="875" y="203" width="1" height="1"/>
<rect x="878" y="203" width="1" height="1"/>
<rect x="881" y="203" width="1" height="1"/>
<rect x="884" y="203" width="1" height="1"/>
<rect x="887" y="203" width="1" height="1"/>
<rect x="890" y="203" width="1" height="1"/>
<rect x="893" y="203" width="1" height="1"/>
<rect x="896" y="203" width="1" height="1"/>
<rect x="899" y="203" width="1" height="1"/>
<rect x="902" y="203" width="1" height="1"/>
<rect x="905" y="203" width="1" height="1"/>
<rect x="908" y="203" width="1" height="1"/>
<rect x="911" y="203" width="1" height="1"/>
<rect x="914" y="203" width="1" height="1"/>
<rect x="917" y="203" width="1" height="1"/>
<rect x="920" y="203" width="1" height="1"/>
<rect x="923" y="203" width="1" height="1"/>
<rect x="926" y="203" width="1" height="1"/>
<rect x="929" y="203" width="1" height="1"/>
<rect x="932" y="203" width="1" height="1"/>
<rect x="935" y="203" width="1" height="1"/>
<rect x="938" y="203" width="1" height="1"/>
<rect x="941" y="203" width="1" height="1"/>
<rect x="944" y="203" width="1" height="1"/>
<rect x="947" y="203" width="1" height="1"/>
<rect x="950" y="203" width="1" height="1"/>
<rect x="953" y="203" width="1" height="1"/>
<rect x="956" y="203" width="1" height="1"/>
<rect x="959" y="203" width="1" height="1"/>
<rect x="962" y="203" width="1" height="1"/>
<rect x="965" y="203" width="1" height="1"/>
<rect x="968" y="203" width="1" height="1"/>
<rect x="971" y="203" width="1" height="1"/>
<rect x="974" y="203" width="1" height="1"/>
<rect x="977" y="203" width="1" height="1"/>
<rect x="980" y="203" width="1" height="1"/>
<rect x="983" y="203" width="1" height="1"/>
<rect x="986" y="203" width="1" height="1"/>
<rect x="989" y="203" width="1" height="1"/>
<rect x="992" y="203" width="1" height="1"/>
<rect x="995" y="203" width="1" height="1"/>
<rect x="998" y="203" width="1" height="1"/>
<rect x="1001" y="203" width="1" height="1"/>
<rect x="1004" y="203" width="1" height="1"/>
<rect x="1007" y="203" width="1" height="1"/>
<rect x="1010" y="203" width="1" height="1"/>
<rect x="1013" y="203" width="1" height="1"/>
<rect x="1016" y="203" width="1" height="1"/>
<rect x="1019" y="203" width="1" height="1"/>
<rect x="1022" y="203" width="1" height="1"/>
<rect x="1025" y="203" width="1" height="1"/>
<rect x="1028" y="203" width="1" height="1"/>
<rect x="1031" y="203" width="1" height="1"/>
<rect x="1034" y="203" width="1" height="1"/>
<rect x="1037" y="203" width="1" height="1"/>
<rect x="1040" y="203" width="1" height="1"/>
<rect x="1043" y="203" width="1" height="1"/>
<rect x="1046" y="203" width="1" height="1"/>
<rect x="1049" y="203" width="1" height="1"/>
<rect x="1052" y="203" width="1" height="1"/>
<rect x="1055" y="203" width="1" height="1"/>
<rect x="1058" y="203" width="1" height="1"/>
<rect x="1061" y="203" width="1" height="1"/>
<rect x="1064" y="203" width="1" height="1"/>
<rect x="1067" y="203" width="1" height="1"/>
<rect x="1070" y="203" width="1" height="1"/>
<rect x="1073" y="203" width="1" height="1"/>
<rect x="1076" y="203" width="1" height="1"/>
<rect x="1079" y="203" width="1" height="1"/>
<rect x="1082" y="203" width="1" height="1"/>
<rect x="1085" y="203" width="1" height="1"/>
<rect x="1088" y="203" width="1" height="1"/>
<rect x="1091" y="203" width="1" height="1"/>
<rect x="1094" y="203" width="1" height="1"/>
<rect x="1097" y="203" width="1" height="1"/>
<rect x="1100" y="203" width="1" height="1"/>
<rect x="1103" y="203" width="1" height="1"/>
<rect x="1106" y="203" width="1" height="1"/>
<rect x="1109" y="203" width="1" height="1"/>
<rect x="1112" y="203" width="1" height="1"/>
<rect x="1115" y="203" width="1" height="1"/>
<rect x="1118" y="203" width="1" height="1"/>
<rect x="1121" y="203" width="1" height="1"/>
<rect x="1124" y="203" width="1" height="1"/>
<rect x="1127" y="203" width="1" height="1"/>
<rect x="1130" y="203" width="1" height="1"/>
<rect x="1133" y="203" width="1" height="1"/>
<rect x="1136" y="203" width="1" height="1"/>
<rect x="1139" y="203" width="1" height="1"/>
<rect x="1142" y="203" width="1" height="1"/>
<rect x="1145" y="203" width="1" height="1"/>
<rect x="1148" y="203" width="1" height="1"/>
<rect x="1151" y="203" width="1" height="1"/>
<rect x="1154" y="203" width="1" height="1"/>
<rect x="1157" y="203" width="1" height="1"/>
<rect x="1160" y="203" width="1" height="1"/>
<rect x="1163" y="203" width="1" height="1"/>
<rect x="1166" y="203" width="1" height="1"/>
<rect x="1169" y="203" width="1" height="1"/>
<rect x="1172" y="203" width="1" height="1"/>
<rect x="1175" y="203" width="1" height="1"/>
<rect x="1178" y="203" width="1" height="1"/>
<rect x="1181" y="203" width="1" height="1"/>
<rect x="1184" y="203" width="1" height="1"/>
<rect x="1187" y="203" width="1" height="1"/>
<rect x="1190" y="203" width="1" height="1"/>
</g>
<g fill="#e0e0e3">
<rect x="1244" y="24" width="1" height="729"/>
<rect x="8" y="725" width="1306" height="1"/>
<rect x="1245" y="27" width="4" height="1"/>
<rect x="1245" y="75" width="4" height="1"/>
<rect x="1245" y="122" width="4" height="1"/>
<rect x="1245" y="169" width="4" height="1"/>
<rect x="1245" y="217" width="4" height="1"/>
<rect x="1245" y="264" width="4" height="1"/>
<rect x="1245" y="311" width="4" height="1"/>
<rect x="1245" y="358" width="4" height="1"/>
<rect x="1245" y="406" width="4" height="1"/>
<rect x="1245" y="453" width="4" height="1"/>
<rect x="1245" y="500" width="4" height="1"/>
<rect x="1245" y="548" width="4" height="1"/>
<rect x="1245" y="595" width="4" height="1"/>
<rect x="1245" y="642" width="4" height="1"/>
<rect x="1245" y="690" width="4" height="1"/>
<rect x="52" y="726" width="1" height="4"/>
<rect x="164" y="726" width="1" height="4"/>
<rect x="284" y="726" width="1" height="4"/>
<rect x="370" y="726" width="1" height="4"/>
<rect x="470" y="726" width="1" height="4"/>
<rect x="570" y="726" width="1" height="4"/>
<rect x="656" y="726" width="1" height="4"/>
<rect x="776" y="726" width="1" height="4"/>
<rect x="889" y="726" width="1" height="4"/>
<rect x="982" y="726" width="1" height="4"/>
<rect x="1075" y="726" width="1" height="4"/>
<rect x="1168" y="726" width="1" height="4"/>
</g>
<g fill="#000">
<rect x="7" y="23" width="1308" height="1"/>
<rect x="7" y="753" width="1308" height="1"/>
<rect x="7" y="23" width="1" height="731"/>
<rect x="1314" y="23" width="1" height="731"/>
</g>
</svg>
<svg style="position:absolute;left:1191px;top:195px" width="118" height="17" viewBox="0 0 118 17">
<path d="M2.5 0H52V17H2.5A2.5 2.5 0 0 1 0 14.5V2.5A2.5 2.5 0 0 1 2.5 0Z" fill="#ef5350"/>
<path d="M53 0H115.5A2.5 2.5 0 0 1 118 2.5V14.5A2.5 2.5 0 0 1 115.5 17H53Z" fill="#ef5350"/>
<rect x="53" y="8" width="5" height="1" fill="#fff" shape-rendering="crispEdges"/>
</svg>
<svg style="position:absolute;left:6px;top:763px" width="28" height="17" viewBox="0 0 28 17">
<path d="M5.6 16.2 C2.4 16.2 1 14 1 12 C1 9.6 2.8 7.8 5.6 7.6 C6 4 8.6 1 12.2 1 C15.2 1 17.4 2.8 18.4 5.4 C19.4 4.8 20.6 4.6 21.6 4.8 C23.4 5.2 24.4 6.6 24.6 8.2 C26.2 9 27.1 10.6 27.1 12.2 C27.1 14.4 25.4 16.2 23 16.2 Z" fill="#2196f3"/>
<path d="M1.6 13.6 L10.8 7 L17 12.6 L23.4 5.4" fill="none" stroke="#fff" stroke-width="1.1"/>
<circle cx="10.8" cy="7" r="1.8" fill="#fff"/><circle cx="17" cy="12.6" r="1.8" fill="#fff"/>
</svg>
<span id="h1" class="t h b" style="left:6.95px;top:2px;transform:scaleX(0.9021)">BITSTAMP:BTCUSD, 1D</span>
<span id="h2" class="t h" style="left:146.30px;top:2px;letter-spacing:-0.229px">49106.36</span>
<span id="h4" class="t h" style="left:215.76px;top:2px;letter-spacing:-0.244px">−522.97</span>
<span id="h5" class="t h" style="left:264.87px;top:2px;letter-spacing:-0.340px">(−1.05%)</span>
<span id="h6" class="t h b" style="left:319.60px;top:2px;transform:scaleX(0.8896)">O:</span>
<span id="h7" class="t h r" style="left:333.50px;top:2px;letter-spacing:-0.329px">49641.89</span>
<span id="h8" class="t h b" style="left:389.93px;top:2px;transform:scaleX(0.9285)">H:</span>
<span id="h9" class="t h r" style="left:403.70px;top:2px;letter-spacing:-0.157px">50250.00</span>
<span id="h10" class="t h b" style="left:460.79px;top:2px;transform:scaleX(0.8612)">L:</span>
<span id="h11" class="t h r" style="left:472.40px;top:2px;letter-spacing:-0.343px">48304.83</span>
<span id="h12" class="t h b" style="left:529.00px;top:2px;transform:scaleX(0.8000)">C:</span>
<span id="h13" class="t h r" style="left:541.50px;top:2px;letter-spacing:-0.286px">49106.36</span>
<span id="l1a" class="t b" style="left:15.70px;top:33px;letter-spacing:0.050px">Bitcoin</span>
<span id="l1b" class="t b" style="left:60.4px;top:33px;transform-origin:0 12px;transform:translateY(2px) skewX(-12.5deg) scaleY(1.4)">/</span>
<span id="l1c" class="t b" style="left:68.94px;top:33px;letter-spacing:0.054px">U.S.</span>
<span id="l1d" class="t b" style="left:96.00px;top:33px;letter-spacing:0.350px">Dollar,</span>
<span id="l1e" class="t b" style="left:137.97px;top:33px;transform:scaleX(1.0686)">1D,</span>
<span id="l1f" class="t b" style="left:160.90px;top:33px;letter-spacing:0.082px">BITSTAMP</span>
<span id="l2" class="t " style="left:15.90px;top:50px;transform:scaleX(1.0500)">Vol</span>
<span id="p0" class="t " style="left:1253.90px;top:20px;letter-spacing:-0.210px">64000.00</span>
<span id="p1" class="t " style="left:1253.90px;top:68px;letter-spacing:-0.210px">60000.00</span>
<span id="p2" class="t " style="left:1253.90px;top:115px;letter-spacing:-0.210px">56000.00</span>
<span id="p3" class="t " style="left:1253.90px;top:162px;letter-spacing:-0.210px">52000.00</span>
<span id="p4" class="t " style="left:1253.90px;top:210px;letter-spacing:-0.210px">48000.00</span>
<span id="p5" class="t " style="left:1253.90px;top:257px;letter-spacing:-0.210px">44000.00</span>
<span id="p6" class="t " style="left:1253.90px;top:304px;letter-spacing:-0.210px">40000.00</span>
<span id="p7" class="t " style="left:1253.90px;top:351px;letter-spacing:-0.210px">36000.00</span>
<span id="p8" class="t " style="left:1253.90px;top:399px;letter-spacing:-0.210px">32000.00</span>
<span id="p9" class="t " style="left:1253.90px;top:446px;letter-spacing:-0.210px">28000.00</span>
<span id="p10" class="t " style="left:1253.90px;top:493px;letter-spacing:-0.210px">24000.00</span>
<span id="p11" class="t " style="left:1253.90px;top:541px;letter-spacing:-0.210px">20000.00</span>
<span id="p12" class="t " style="left:1253.90px;top:588px;letter-spacing:-0.210px">16000.00</span>
<span id="p13" class="t " style="left:1253.90px;top:635px;letter-spacing:-0.210px">12000.00</span>
<span id="p14" class="t " style="left:1253.90px;top:683px;letter-spacing:-0.210px">8000.00</span>
<span id="pl1" class="t b w" style="left:1195.83px;top:196px;transform:scaleX(0.8574)">BTCUSD</span>
<span id="pl2" class="t b w" style="left:1254.30px;top:196px;letter-spacing:-0.271px">49106.36</span>
<span id="t0" class="t " style="left:44.94px;top:731px;letter-spacing:-0.278px">14</span>
<span id="t1" class="t " style="left:155.30px;top:731px;transform:scaleX(0.9474)">Oct</span>
<span id="t2" class="t " style="left:277.79px;top:731px;transform:scaleX(0.9469)">19</span>
<span id="t3" class="t " style="left:359.81px;top:731px;letter-spacing:-0.267px">Nov</span>
<span id="t4" class="t " style="left:463.80px;top:731px;transform:scaleX(0.9386)">16</span>
<span id="t5" class="t " style="left:559.31px;top:731px;letter-spacing:-0.304px">Dec</span>
<span id="t6" class="t " style="left:649.70px;top:731px;transform:scaleX(0.9356)">14</span>
<span id="t7" class="t b" style="left:762.00px;top:731px;letter-spacing:0.176px">2021</span>
<span id="t8" class="t " style="left:882.47px;top:731px;transform:scaleX(0.9635)">18</span>
<span id="t9" class="t " style="left:971.51px;top:731px;letter-spacing:-0.140px">Feb</span>
<span id="t10" class="t " style="left:1068.32px;top:731px;transform:scaleX(0.9137)">15</span>
<span id="t11" class="t " style="left:1156.81px;top:731px;letter-spacing:-0.104px">Mar</span>
<span id="tv" class="t h" style="left:35.00px;top:764px;letter-spacing:-0.120px">TradingView</span>
<div style="position:absolute;left:1266px;top:24px;width:30px;height:7px;background:rgba(255,255,255,0.55)"></div>
<div style="position:absolute;left:1263px;top:30px;width:30px;height:17px;border:1px solid #dfe2ea;border-radius:4px;background:#fff"></div>
<span class="t" style="left:1268.45px;top:31px;transform:scaleX(0.8527)">USD</span>
<svg style="position:absolute;left:201px;top:4px" width="12" height="12" viewBox="0 0 12 12"><path d="M0.9 0.9H11.2L6.05 10.9Z" fill="#ef5350"/></svg>
</body></html>
